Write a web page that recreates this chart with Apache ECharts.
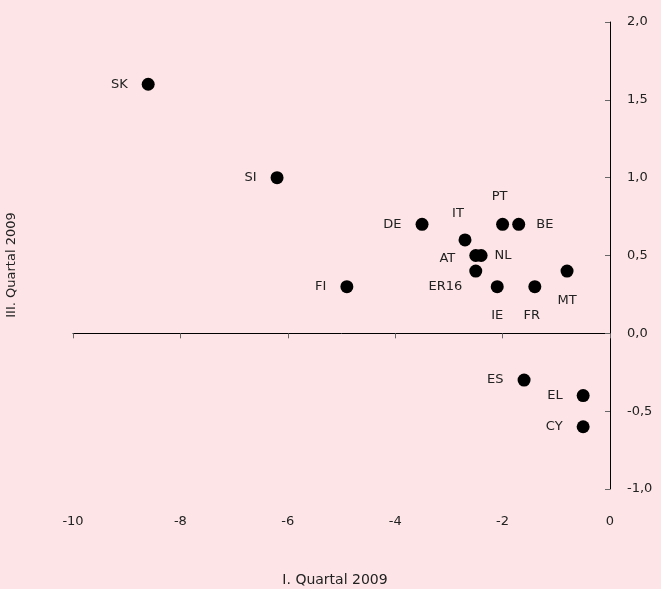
<!DOCTYPE html>
<html>
<head>
<meta charset="utf-8">
<script src="https://cdn.jsdelivr.net/npm/echarts@6/dist/echarts.min.js"></script>
<style>
  html, body { margin: 0; padding: 0; background: #fde4e6; }
  #chart { width: 661px; height: 589px; }
</style>
</head>
<body>
<div id="chart"></div>
<script>
// data
const countries = ['SK', 'SI', 'FI', 'DE', 'IT', 'AT', 'NL', 'ER16', 'PT', 'BE', 'IE', 'FR', 'MT', 'ES', 'EL', 'CY'];
const q1_2009 = [-8.6, -6.2, -4.9, -3.5, -2.7, -2.5, -2.4, -2.5, -2.0, -1.7, -2.1, -1.4, -0.8, -1.6, -0.5, -0.5];
const q3_2009 = [1.6, 1.0, 0.3, 0.7, 0.6, 0.5, 0.5, 0.4, 0.7, 0.7, 0.3, 0.3, 0.4, -0.3, -0.4, -0.6];

const xTitle = 'I. Quartal 2009';
const yTitle = 'III. Quartal 2009';

// label placement per country (default: left of the dot)
const labelPlacement = {
  IT: { position: 'top', offset: [-7, 1] },
  PT: { position: 'top', offset: [-3, -1] },
  BE: { position: 'right', distance: 11 },
  NL: { position: 'right', distance: 7 },
  AT: { position: 'left', distance: 14, offset: [0, 3] },
  ER16: { position: 'left', distance: 7, offset: [0, 16] },
  IE: { position: 'bottom', offset: [0, 2] },
  FR: { position: 'bottom', offset: [-3, 2] },
  MT: { position: 'bottom', offset: [0, 3] }
};

const font = 'DejaVu Sans';
const textColor = '#222';

const points = countries.map((c, i) => ({
  name: c,
  value: [q1_2009[i], q3_2009[i]],
  label: Object.assign({ position: 'left', distance: 14 }, labelPlacement[c] || {})
}));

const chart = echarts.init(document.getElementById('chart'), null, { renderer: 'canvas' });

chart.setOption({
  backgroundColor: '#fde4e6',
  animation: false,
  grid: { left: 73, right: 51, top: 22, bottom: 100, containLabel: false },
  xAxis: [
    {
      type: 'value', min: -10, max: 0, interval: 2,
      axisLine: { show: true, onZero: true, lineStyle: { color: '#000', width: 1 } },
      axisTick: { show: true, length: 5, lineStyle: { color: '#666' } },
      axisLabel: { show: false },
      splitLine: { show: false }
    },
    {
      type: 'value', min: -10, max: 0, interval: 2, position: 'bottom',
      axisLine: { show: false, onZero: false },
      axisTick: { show: false },
      axisLabel: { show: true, margin: 26, color: textColor, fontFamily: font, fontSize: 13 },
      splitLine: { show: false }
    }
  ],
  yAxis: {
    type: 'value', min: -1, max: 2, interval: 0.5, position: 'right',
    axisLine: { show: true, onZero: false, lineStyle: { color: '#000', width: 1 } },
    axisTick: { show: true, inside: true, length: 5, lineStyle: { color: '#666' } },
    axisLabel: {
      margin: 17, color: textColor, fontFamily: font, fontSize: 13,
      formatter: v => v.toFixed(1).replace('.', ',')
    },
    splitLine: { show: false }
  },
  graphic: [
    {
      type: 'text', x: 335, y: 580,
      style: { text: xTitle, fill: textColor, font: '14px ' + font, align: 'center', verticalAlign: 'middle' }
    },
    {
      type: 'text', x: 12, y: 265, rotation: Math.PI / 2,
      style: { text: yTitle, fill: textColor, font: '13px ' + font, align: 'center', verticalAlign: 'middle' }
    }
  ],
  series: [{
    type: 'scatter',
    xAxisIndex: 0,
    symbolSize: 13,
    itemStyle: { color: '#000', opacity: 1 },
    label: {
      show: true,
      formatter: '{b}',
      color: textColor,
      fontFamily: font,
      fontSize: 13
    },
    data: points
  }]
});
</script>
</body>
</html>
